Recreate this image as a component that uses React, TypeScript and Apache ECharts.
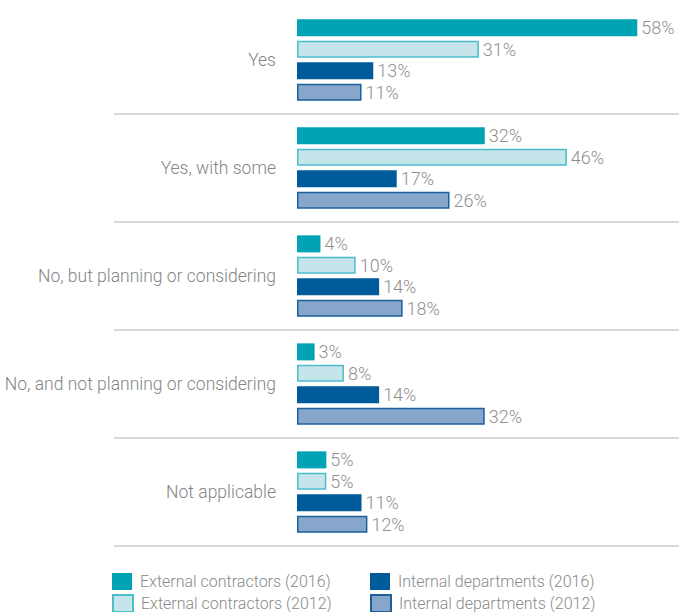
import React, { useEffect, useRef } from "react";
import * as echarts from "echarts";

const categories = [
  "Yes",
  "Yes, with some",
  "No, but planning or considering",
  "No, and not planning or considering",
  "Not applicable",
];
const seriesNames = [
  "External contractors (2016)",
  "External contractors (2012)",
  "Internal departments (2016)",
  "Internal departments (2012)",
];
const ext2016 = [58, 32, 4, 3, 5];
const ext2012 = [31, 46, 10, 8, 5];
const int2016 = [13, 17, 14, 14, 11];
const int2012 = [11, 26, 18, 32, 12];

const FONT = "Roboto, sans-serif";

export default function App() {
  const ref = useRef<HTMLDivElement>(null);
  useEffect(() => {
    const chart = echarts.init(ref.current!, undefined, { renderer: "svg" });
    const gridTop = 6;
    const gridH = 540;
    const band = gridH / categories.length;
    const styles = [
      { color: "#00A3B4", borderColor: "#00A3B4", borderWidth: 0 },
      { color: "#C6E5EA", borderColor: "#4DBDCB", borderWidth: 1.5 },
      { color: "#005B9A", borderColor: "#005B9A", borderWidth: 0 },
      { color: "#86A6CC", borderColor: "#1D5F9B", borderWidth: 1.5 },
    ];
    const data = [ext2016, ext2012, int2016, int2012];
    const lines = [];
    for (let i = 1; i <= categories.length; i++) {
      const y = gridTop + band * i;
      lines.push({
        type: "line",
        shape: { x1: 114, y1: y, x2: 679, y2: y },
        style: { stroke: "#D9D9D9", lineWidth: 2 },
        silent: true,
      });
    }
    const legendPos = [
      { left: 112, top: 573 },
      { left: 112, top: 594 },
      { left: 370, top: 573 },
      { left: 370, top: 594 },
    ];
    chart.setOption({
      animation: false,
      grid: {
        left: 297,
        top: gridTop,
        height: gridH,
        right: 30,
        containLabel: false,
        outerBoundsMode: "none",
      },
      xAxis: {
        type: "value",
        min: 0,
        max: 60,
        show: false,
      },
      yAxis: {
        type: "category",
        data: categories,
        inverse: true,
        axisLine: { show: false },
        axisTick: { show: false },
        splitLine: { show: false },
        axisLabel: {
          color: "#858585",
          fontSize: 17.5,
          fontWeight: 300,
          fontFamily: FONT,
          margin: 21,
        },
      },
      legend: seriesNames.map((n, i) => ({
        data: [n],
        left: legendPos[i].left,
        top: legendPos[i].top,
        orient: "horizontal",
        icon: "rect",
        itemWidth: 20,
        itemHeight: 17,
        itemGap: 0,
        padding: 0,
        selectedMode: false,
        textStyle: {
          color: "#8A8A8A",
          fontSize: 16,
          fontWeight: 300,
          fontFamily: FONT,
          padding: [0, 0, 0, 3],
        },
      })),
      graphic: lines,
      series: seriesNames.map((n, i) => ({
        name: n,
        type: "bar",
        data: data[i],
        barWidth: 17,
        barGap: "26%",
        itemStyle: styles[i],
        label: {
          show: true,
          position: "right",
          distance: 4,
          formatter: "{c}%",
          color: "#8F8F8F",
          fontSize: 18,
          fontWeight: 300,
          fontFamily: FONT,
        },
      })),
    });
    return () => chart.dispose();
  }, []);
  return (
    <div
      ref={ref}
      style={{ position: "fixed", left: 0, top: 0, width: 679, height: 612, background: "#fff" }}
    />
  );
}
